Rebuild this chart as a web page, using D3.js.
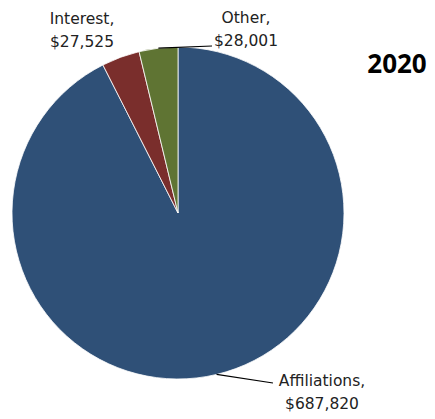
<!DOCTYPE html>
<html>
<head>
<meta charset="utf-8">
<script src="https://cdn.jsdelivr.net/npm/d3@7"></script>
<style>
  html, body { margin: 0; padding: 0; background: #ffffff; }
  svg { display: block; }
  .lbl { font-family: "DejaVu Sans", sans-serif; font-size: 15.5px; fill: #222; }
  .title { font-family: "Open Sans", sans-serif; font-weight: 700; font-size: 26px; fill: #000; }
</style>
</head>
<body>
<svg id="chart" width="435" height="419"></svg>
<script>
// Revenue sources for the year
const categories = ["Affiliations", "Interest", "Other"];
const values = [687820, 27525, 28001];
const colors = ["#2F5077", "#7A2E2C", "#5F7433"];
const yearTitle = "2020";

const W = 435, H = 419;
const cx = 178, cy = 213, R = 166;

const svg = d3.select("#chart");
const data = categories.map((c, i) => ({ name: c, value: values[i], color: colors[i] }));

const pie = d3.pie().value(d => d.value).sort(null).startAngle(0).endAngle(2 * Math.PI);
const arcs = pie(data);
const arc = d3.arc().innerRadius(0).outerRadius(R);

const g = svg.append("g").attr("transform", `translate(${cx},${cy})`);
g.selectAll("path.slice")
  .data(arcs)
  .join("path")
  .attr("class", "slice")
  .attr("d", arc)
  .attr("fill", d => d.data.color)
  .attr("stroke", "#ffffff")
  .attr("stroke-width", 0.8);

const fmt = d3.format("$,");

// point on the rim at the middle of a slice
function rim(d) {
  const a = (d.startAngle + d.endAngle) / 2;
  return [cx + R * Math.sin(a), cy - R * Math.cos(a)];
}

// label placement: centre x, first baseline, optional leader end point
const labelPos = {
  "Affiliations": { x: 322, y: 386, leaderTo: [273, 383] },
  "Interest": { x: 82, y: 24, leaderTo: null },
  "Other": { x: 246, y: 23, leaderTo: [212, 46] }
};

arcs.forEach(d => {
  const p = labelPos[d.data.name];
  if (p.leaderTo) {
    const s = rim(d);
    svg.append("path")
      .attr("d", d3.line()([s, p.leaderTo]))
      .attr("stroke", "#000")
      .attr("stroke-width", 1.2)
      .attr("fill", "none");
  }
  const t = svg.append("text").attr("class", "lbl").attr("text-anchor", "middle");
  t.append("tspan").attr("x", p.x).attr("y", p.y).text(d.data.name + ",");
  t.append("tspan").attr("x", p.x).attr("y", p.y + 23).text(fmt(d.data.value));
});

svg.append("text")
  .attr("class", "title")
  .attr("x", 397)
  .attr("y", 73)
  .attr("text-anchor", "middle")
  .text(yearTitle);
</script>
</body>
</html>
